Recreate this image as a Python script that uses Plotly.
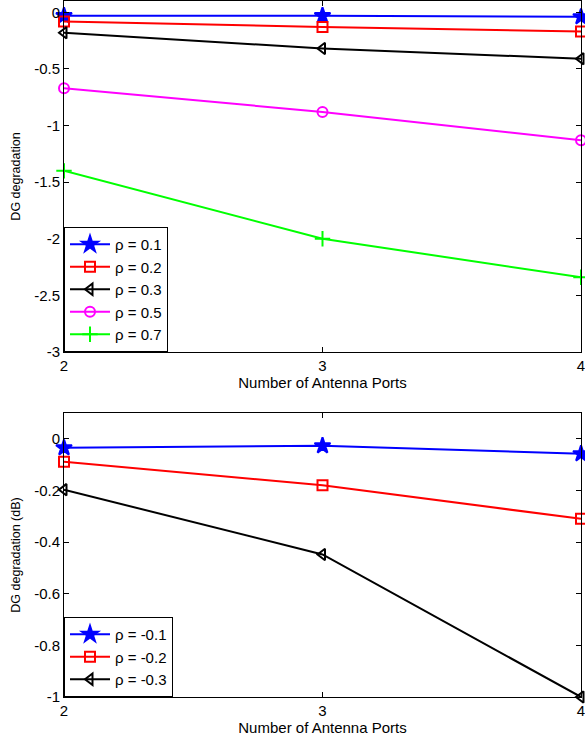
import plotly.graph_objects as go

ports = [2, 3, 4]

# Top panel (positive correlation)
top_labels = ["ρ = 0.1", "ρ = 0.2", "ρ = 0.3", "ρ = 0.5", "ρ = 0.7"]
top_values = [
    [-0.03, -0.03, -0.04],
    [-0.08, -0.13, -0.17],
    [-0.18, -0.32, -0.41],
    [-0.67, -0.88, -1.13],
    [-1.40, -2.00, -2.34],
]

# Bottom panel (negative correlation)
bot_labels = ["ρ = -0.1", "ρ = -0.2", "ρ = -0.3"]
bot_values = [
    [-0.035, -0.027, -0.058],
    [-0.089, -0.18, -0.31],
    [-0.197, -0.448, -1.0],
]

top_yticks = [0, -0.5, -1, -1.5, -2, -2.5, -3]
top_yticktext = ["0", "-0.5", "-1", "-1.5", "-2", "-2.5", "-3"]
bot_yticks = [0, -0.2, -0.4, -0.6, -0.8, -1]
bot_yticktext = ["0", "-0.2", "-0.4", "-0.6", "-0.8", "-1"]

top_styles = [
    dict(color="#0000FF", symbol="star", size=12),
    dict(color="#FF0000", symbol="square-open", size=10),
    dict(color="#000000", symbol="triangle-left-open", size=10),
    dict(color="#FF00FF", symbol="circle-open", size=10),
    dict(color="#00FF00", symbol="cross-thin-open", size=11),
]
bot_styles = top_styles[:3]

FONT = "Liberation Sans, Arial, sans-serif"

fig = go.Figure()

def add_traces(labels, values, styles, xa, ya, legend):
    for lab, vals, st in zip(labels, values, styles):
        fig.add_trace(go.Scatter(
            x=ports, y=vals, name=lab, mode="lines+markers",
            xaxis=xa, yaxis=ya, legend=legend, cliponaxis=False,
            line=dict(color=st["color"], width=2),
            marker=dict(symbol=st["symbol"], size=st["size"],
                        color=st["color"],
                        line=dict(color=st["color"], width=2)),
        ))

add_traces(top_labels, top_values, top_styles, "x", "y", "legend")
add_traces(bot_labels, bot_values, bot_styles, "x2", "y2", "legend2")

H = 742
axis_common = dict(
    showline=True, linecolor="black", linewidth=1, mirror="ticks",
    ticks="inside", ticklen=5, tickcolor="black", showgrid=False,
    zeroline=False, tickfont=dict(family=FONT, size=15, color="black"),
    ticklabeloverflow="allow",
)

fig.update_layout(
    width=585, height=H,
    margin=dict(l=64, r=4, t=0, b=0, autoexpand=False),
    paper_bgcolor="white", plot_bgcolor="white",
    font=dict(family=FONT, size=15, color="black"),
    showlegend=True,
    xaxis=dict(**axis_common, range=[2, 4], tickvals=ports, anchor="y",
               domain=[0, 1],
               title=dict(text="Number of Antenna Ports", standoff=3,
                          font=dict(family=FONT, size=15))),
    yaxis=dict(**axis_common, range=[-3, 0.1], tickvals=top_yticks,
               ticktext=top_yticktext, anchor="x",
               domain=[1 - 352 / H, 1 - 1 / H],
               title=dict(text="DG degradation", standoff=10,
                          font=dict(family=FONT, size=12.5))),
    xaxis2=dict(**axis_common, range=[2, 4], tickvals=ports, anchor="y2",
                domain=[0, 1],
                title=dict(text="Number of Antenna Ports", standoff=3,
                           font=dict(family=FONT, size=15))),
    yaxis2=dict(**axis_common, range=[-1, 0.1], tickvals=bot_yticks,
                ticktext=bot_yticktext, anchor="x2",
                domain=[1 - 697 / H, 1 - 413 / H],
                title=dict(text="DG degradation (dB)", standoff=10,
                           font=dict(family=FONT, size=12.5))),
    legend=dict(x=0, y=1 - 352 / H, xanchor="left", yanchor="bottom",
                xref="paper", yref="paper",
                bgcolor="white", bordercolor="black", borderwidth=1,
                font=dict(family=FONT, size=15), tracegroupgap=0,
                itemwidth=40),
    legend2=dict(x=0, y=1 - 697 / H, xanchor="left", yanchor="bottom",
                 xref="paper", yref="paper",
                 bgcolor="white", bordercolor="black", borderwidth=1,
                 font=dict(family=FONT, size=15), tracegroupgap=0,
                 itemwidth=40),
)

fig.write_html(
    "out.html",
    config={"displayModeBar": False},
    post_script="document.body.style.margin='0';document.body.style.overflow='hidden';",
)
